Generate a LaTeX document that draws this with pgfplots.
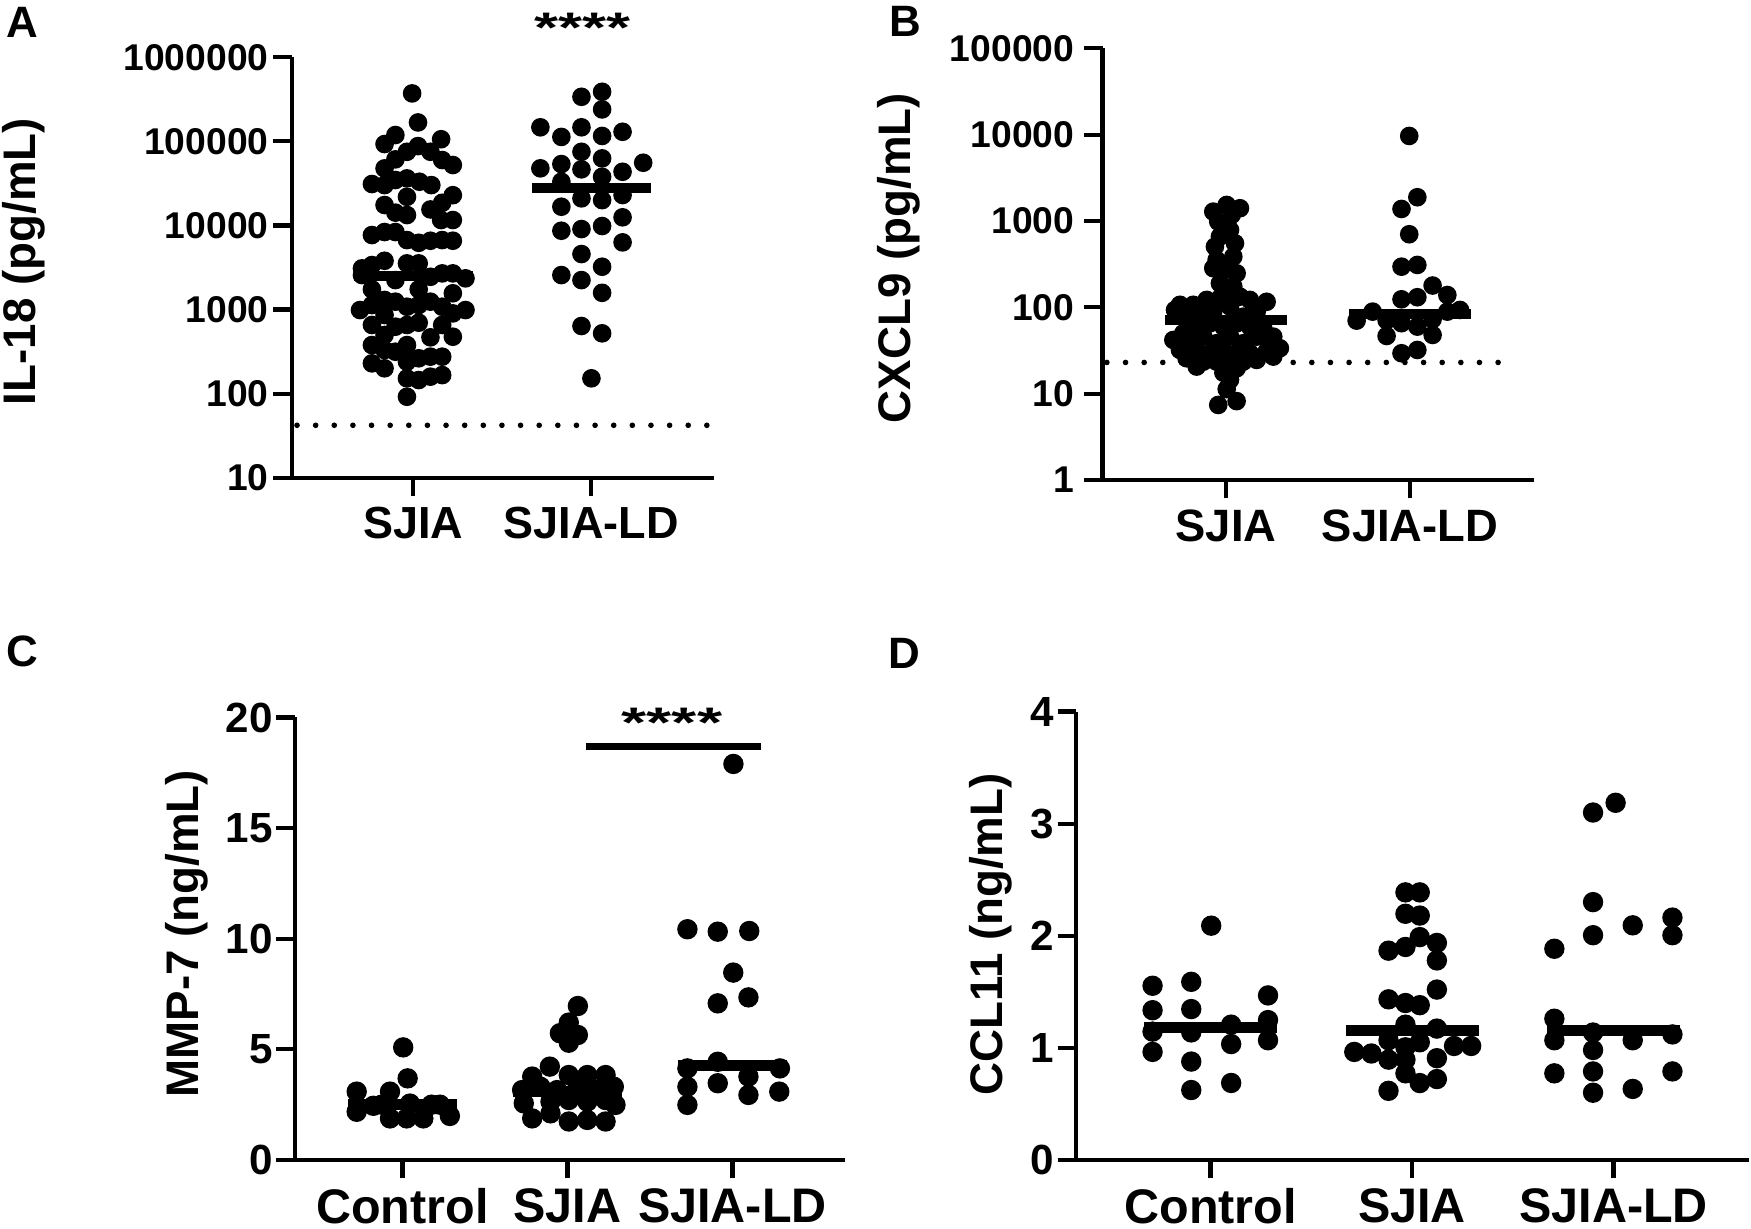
\documentclass[border=0pt]{standalone}
\usepackage{fontspec}
\setmainfont{Liberation Sans}
\usepackage{graphicx}
\usepackage{pgfplots}
\pgfplotsset{compat=1.18}

\pgfplotsset{
  dotplot/.style={
    scale only axis, anchor=south west, clip=false,
    axis x line*=bottom, axis y line*=left,
    axis line style={line width=1.2pt},
    major tick style={line width=1.2pt, black},
    major tick length=0.185cm, tick align=outside,
    /pgf/number format/assume math mode=true,
    yticklabel style={anchor=east, inner sep=0pt},
    xticklabel style={anchor=north, inner sep=0pt},
    ylabel style={anchor=center, font=\bfseries\fontsize{13}{13}\selectfont},
  },
  pts/.style={only marks, mark=*, mark size=2.45pt, black},
  med/.style={no marks, black, line width=2.9pt},
  lod/.style={no marks, black, line width=1.6pt, line cap=round, dash pattern=on 0pt off 5.3pt},
}

\begin{document}
\begin{tikzpicture}
\path[use as bounding box] (0,0) rectangle (17.51,12.29);

% ---------- A: IL-18 ----------
\begin{axis}[dotplot, at={(2.917cm,7.513cm)}, width=4.223cm, height=4.204cm,
  ymode=log, ymin=10, ymax=1000000, xmin=0.316, xmax=2.69,
  ytick={10,100,1000,10000,100000,1000000},
  yticklabels={10,100,1000,10000,100000,1000000}, yminorticks=false,
  xtick={1,2}, xticklabels={SJIA,SJIA-LD},
  yticklabel style={font=\bfseries\fontsize{10.6}{10.6}\selectfont, xshift=-0.04cm},
  xticklabel style={font=\bfseries\fontsize{12.8}{12.8}\selectfont, yshift=-0.105cm},
  ylabel={IL-18 (pg/mL)}, ylabel style={at={(axis description cs:-0.634,0.514)}},
]
\addplot[lod] coordinates {(0.346,42) (2.668,42)};
\addplot[pts] coordinates {
(0.993,372000) (1.026,168000) (0.899,119000) (0.838,92900) (1.156,106000)
(1.026,87900) (0.964,75200) (1.096,75200) (0.899,61100) (1.162,60000)
(1.222,52300) (0.838,47700) (0.767,31100) (0.838,30200) (0.899,34700)
(0.964,36300) (1.034,33100) (1.101,30200) (0.964,21900) (1.222,22900)
(0.838,17500) (1.162,18600) (1.096,15500) (0.899,14200) (0.964,13300)
(1.156,11600) (1.222,11600) (0.767,7690) (0.838,8350) (0.899,8350)
(0.964,6700) (1.030,6220) (1.096,6580) (1.162,6700) (1.222,6580)
(0.838,3800) (0.711,3090) (0.767,3380) (0.964,3540) (1.030,3540)
(0.711,2570) (0.899,2240) (1.096,2450) (1.162,2690) (1.222,2690)
(1.293,2350) (0.767,1740) (1.030,1740) (1.222,1560) (0.700,986)
(0.767,1130) (0.838,1300) (0.899,1240) (0.964,1080) (1.030,1130)
(1.096,1240) (1.162,1080) (1.293,986) (1.222,900) (0.767,655)
(0.838,861) (0.899,625) (0.964,655) (1.030,697) (1.162,655)
(0.838,498) (1.096,467) (1.222,475) (0.767,378) (0.838,330)
(0.899,315) (0.964,378) (0.767,229) (0.838,200) (0.964,239)
(1.030,263) (1.096,275) (1.162,275) (0.964,152) (1.030,145)
(1.096,159) (1.162,166) (0.964,91.8)
};
\addplot[pts] coordinates {
(2.061,389000) (1.945,339000) (2.061,240000) (1.714,147000) (1.945,147000)
(1.832,113000) (2.061,116000) (2.176,130000) (1.945,75200) (2.061,62800)
(2.292,55700) (1.714,47800) (1.832,53700) (1.945,46500) (2.176,43500)
(2.061,37900) (1.832,33100) (1.945,21000) (2.061,20000) (2.176,23000)
(1.832,16700) (2.176,12500) (1.832,8650) (1.945,9060) (2.061,9840)
(2.176,6290) (1.945,4570) (2.061,3230) (1.832,2570) (1.945,2240)
(2.061,1580) (1.945,637) (2.061,521) (2.001,152)
};
\addplot[med] coordinates {(0.666,2520) (1.334,2520)};
\addplot[med] coordinates {(1.666,27600) (2.334,27600)};
\end{axis}

% ---------- B: CXCL9 ----------
\begin{axis}[dotplot, at={(11.025cm,7.49cm)}, width=4.315cm, height=4.316cm,
  ymode=log, ymin=1, ymax=100000, xmin=0.329, xmax=2.674,
  ytick={1,10,100,1000,10000,100000},
  yticklabels={1,10,100,1000,10000,100000}, yminorticks=false,
  xtick={1,2}, xticklabels={SJIA,SJIA-LD},
  yticklabel style={font=\bfseries\fontsize{10.6}{10.6}\selectfont, xshift=-0.09cm},
  xticklabel style={font=\bfseries\fontsize{12.9}{12.9}\selectfont, yshift=-0.105cm},
  ylabel={CXCL9 (pg/mL)}, ylabel style={at={(axis description cs:-0.472,0.514)}},
]
\addplot[lod] coordinates {(0.353,23) (2.554,23)};
\addplot[pts] coordinates {
(0.931,1286) (1.004,1537) (1.076,1407) (0.958,985) (1.031,1177)
(0.967,660) (1.022,789) (0.940,505) (1.049,552) (0.949,354)
(1.040,387) (0.995,271) (0.931,284) (1.058,248) (0.967,190)
(1.040,174) (1.004,146)
(0.750,107) (0.822,107) (0.895,122) (0.967,127) (1.076,133)
(1.130,122) (1.221,116) (1.022,102) (0.931,89.2) (1.167,89.2)
(0.859,85.3) (0.786,81.7) (1.094,78.0) (0.723,93.3)
(0.768,50.1) (0.841,57.2) (0.913,65.3) (0.986,59.8) (1.058,65.3)
(1.130,59.8) (1.203,57.2) (1.257,45.8) (0.877,45.8) (1.022,45.8)
(1.167,45.8) (0.714,41.9) (0.804,38.4) (0.949,38.4) (1.094,38.4)
(1.239,38.4)
(0.750,32.1) (0.841,30.7) (0.913,29.4) (0.986,30.7) (1.058,29.4)
(1.130,29.4) (1.221,30.7) (1.293,33.6) (0.786,25.7) (0.877,23.5)
(0.949,23.5) (1.022,23.5) (1.094,23.5) (1.167,24.6) (1.257,26.9)
(0.841,20.6) (0.986,20.6) (1.058,19.7)
(0.986,17.5) (1.022,14.5) (1.004,11.3) (0.958,7.4) (1.058,8.2)
};
\addplot[pts] coordinates {
(1.996,9680) (2.040,1888) (1.954,1380) (1.996,703) (1.954,296)
(2.040,310) (2.123,179) (2.203,139) (1.954,124) (2.040,131)
(1.797,89.2) (1.710,70.2) (1.873,70.7) (1.954,65.5) (2.040,59.8)
(2.123,72.8) (2.203,89.2) (2.272,93.3) (1.873,46.6) (2.123,47.9)
(1.954,29.4) (2.040,32.1)
};
\addplot[med] coordinates {(0.67,71.5) (1.33,71.5)};
\addplot[med] coordinates {(1.67,83.8) (2.33,83.8)};
\end{axis}

% ---------- C: MMP-7 ----------
\begin{axis}[dotplot, at={(2.95cm,0.69cm)}, width=5.496cm, height=4.425cm,
  ymin=0, ymax=20, xmin=0.348, xmax=3.68,
  ytick={0,5,10,15,20},
  xtick={1,2,3}, xticklabels={Control,SJIA,SJIA-LD},
  yticklabel style={font=\bfseries\fontsize{12}{12}\selectfont, xshift=-0.03cm},
  xticklabel style={font=\bfseries\fontsize{13.8}{13.8}\selectfont, yshift=-0.09cm},
  ylabel={MMP-7 (ng/mL)}, ylabel style={at={(axis description cs:-0.197,0.511)}},
  pts/.append style={mark size=2.7pt}, med/.append style={line width=3.1pt},
]
\addplot[pts] coordinates {
(1.004,5.09) (1.031,3.69) (0.722,3.09) (0.924,3.09) (0.722,2.18)
(0.823,2.45) (0.924,1.88) (1.025,1.88) (1.126,1.88) (1.227,2.5)
(1.287,1.99) (1.176,2.5) (1.045,2.55) (0.874,2.5)
};
\addplot[pts] coordinates {
(2.063,6.96) (2.008,6.21) (1.954,5.73) (2.063,5.65) (2.008,5.30)
(1.893,4.22) (1.786,3.77) (2.008,3.84) (2.120,3.84) (2.231,3.84)
(2.281,3.31) (1.725,3.16) (1.836,3.31) (1.937,3.16) (2.059,3.23)
(2.170,3.16) (1.735,2.56) (1.897,2.64) (2.008,2.71) (2.120,2.64)
(2.231,2.71) (2.291,2.49) (1.786,1.88) (1.897,2.11) (2.008,1.74)
(2.120,1.81) (2.231,1.74)
};
\addplot[pts] coordinates {
(3.006,17.9) (2.727,10.43) (2.911,10.32) (3.102,10.35) (3.005,8.47)
(2.911,7.08) (3.097,7.35) (2.911,4.44) (2.727,4.14) (3.288,4.14)
(2.727,3.31) (2.911,3.47) (3.097,3.77) (3.097,2.94) (3.284,3.09)
(2.727,2.49)
};
\addplot[med] coordinates {(0.667,2.49) (1.333,2.49)};
\addplot[med] coordinates {(1.667,3.09) (2.333,3.09)};
\addplot[med] coordinates {(2.667,4.29) (3.333,4.29)};
\addplot[no marks, black, line width=1.9pt] coordinates {(2.11,18.7) (3.175,18.7)};
\end{axis}

% ---------- D: CCL11 ----------
\begin{axis}[dotplot, at={(10.76cm,0.69cm)}, width=6.73cm, height=4.485cm,
  ymin=0, ymax=4, xmin=0.332, xmax=3.672,
  ytick={0,1,2,3,4},
  xtick={1,2,3}, xticklabels={Control,SJIA,SJIA-LD},
  yticklabel style={font=\bfseries\fontsize{12}{12}\selectfont, xshift=-0.03cm},
  xticklabel style={font=\bfseries\fontsize{13.8}{13.8}\selectfont, yshift=-0.09cm},
  ylabel={CCL11 (ng/mL)}, ylabel style={at={(axis description cs:-0.127,0.503)}},
  pts/.append style={mark size=2.7pt}, med/.append style={line width=3.1pt},
]
\addplot[pts] coordinates {
(1.003,2.09) (0.712,1.554) (0.904,1.589) (1.285,1.468) (0.712,1.336)
(0.904,1.346) (1.102,1.207) (1.285,1.248) (0.712,1.145) (0.904,1.138)
(1.285,1.068) (1.102,1.034) (0.712,0.964) (0.904,0.878) (0.904,0.624)
(1.102,0.687)
};
\addplot[pts] coordinates {
(1.967,2.387) (2.038,2.387) (1.967,2.196) (2.038,2.18) (1.883,1.867)
(1.967,1.90) (2.123,1.936) (2.038,1.988) (2.123,1.78) (2.123,1.52)
(1.883,1.433) (1.967,1.40) (2.038,1.381) (1.713,0.964) (1.798,0.95)
(1.883,1.068) (1.967,1.005) (2.038,1.05) (2.123,1.172) (2.208,1.017)
(2.293,1.017) (1.883,0.895) (1.967,0.895) (2.123,0.908) (1.967,0.773)
(2.123,0.722) (2.038,0.686) (1.883,0.617) (1.967,1.207)
};
\addplot[pts] coordinates {
(2.898,3.099) (3.010,3.186) (2.898,2.30) (2.706,1.884) (2.898,2.005)
(3.095,2.093) (3.292,2.162) (3.292,2.005) (2.706,1.26) (2.898,1.137)
(2.706,1.068) (3.095,1.068) (3.292,1.12) (2.898,0.981) (2.706,0.773)
(2.898,0.79) (3.292,0.79) (2.898,0.60) (3.095,0.634)
};
\addplot[med] coordinates {(0.67,1.179) (1.33,1.179)};
\addplot[med] coordinates {(1.67,1.155) (2.33,1.155)};
\addplot[med] coordinates {(2.67,1.155) (3.33,1.155)};
\end{axis}

% panel letters and significance marks
\begin{scope}[every node/.style={inner sep=0pt, font=\bfseries\fontsize{12.5}{12.5}\selectfont}]
\node at (0.22,12.065) {A};
\node at (9.05,12.075) {B};
\node at (0.22,5.78) {C};
\node at (9.04,5.76) {D};
\node[anchor=north, font=\bfseries\fontsize{13.5}{13.5}\selectfont] at (5.83,12.165) {\scalebox{1.3}[0.9]{****}};
\node[anchor=north, font=\bfseries\fontsize{13.5}{13.5}\selectfont] at (6.72,5.213) {\scalebox{1.36}[0.9]{****}};
\end{scope}
\end{tikzpicture}
\end{document}
